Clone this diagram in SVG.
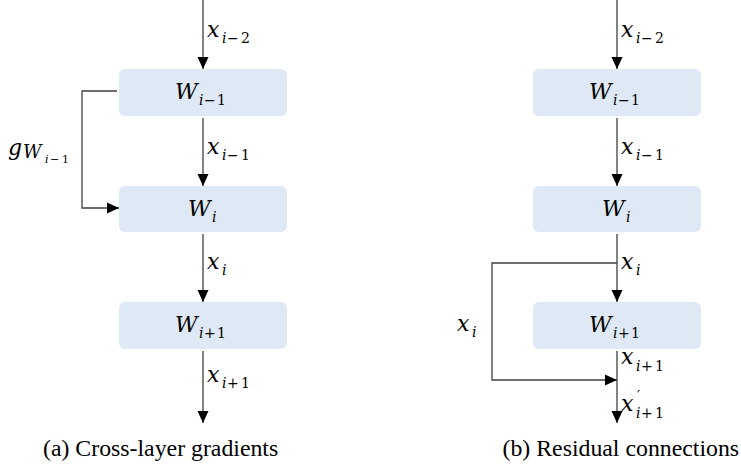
<svg xmlns="http://www.w3.org/2000/svg" width="741" height="467" viewBox="0 0 741 467">
<style>
.box{fill:#DEE9F5;}
.ln{fill:none;stroke:#404040;stroke-width:1.3;}
.m{font-family:"DejaVu Serif",serif;font-size:22px;fill:#000;}
.it{font-style:italic;}
.s{font-size:14px;}
.ss{font-size:11px;}
.cap{font-family:"Liberation Serif","Times New Roman",serif;font-size:23.8px;fill:#000;}
</style>
<defs>
<marker id="ah" viewBox="0 0 12 12" refX="12" refY="6" markerWidth="12" markerHeight="12" markerUnits="userSpaceOnUse" orient="auto">
<path d="M0,0.5 L12,6 L0,11.5 Z" fill="#000"/>
</marker>
</defs>
<rect width="741" height="467" fill="#fff"/>

<g id="connectors">
<path class="ln" d="M203,0 V69" marker-end="url(#ah)"/>
<path class="ln" d="M203,118 V186" marker-end="url(#ah)"/>
<path class="ln" d="M203,234 V302" marker-end="url(#ah)"/>
<path class="ln" d="M203,351 V423" marker-end="url(#ah)"/>
<path class="ln" d="M117,91 H82 V208 H119" marker-end="url(#ah)"/>
<path class="ln" d="M617,0 V69" marker-end="url(#ah)"/>
<path class="ln" d="M617,118 V186" marker-end="url(#ah)"/>
<path class="ln" d="M617,234 V302" marker-end="url(#ah)"/>
<path class="ln" d="M617,351 V423" marker-end="url(#ah)"/>
<path class="ln" d="M617,263 H492 V380 H617" marker-end="url(#ah)"/>
</g>

<g id="a-w1"><rect class="box" x="119" y="69" width="168" height="47" rx="6"/>
<text class="m" y="99"><tspan class="it" x="175">W</tspan><tspan class="s it" x="199" y="105">i</tspan><tspan class="s" x="204" y="105">−</tspan><tspan class="s" x="217" y="105">1</tspan></text></g>
<g id="a-w2"><rect class="box" x="119" y="186" width="168" height="46" rx="6"/>
<text class="m" y="216"><tspan class="it" x="188">W</tspan><tspan class="s it" x="212" y="222">i</tspan></text></g>
<g id="a-w3"><rect class="box" x="119" y="302" width="168" height="47" rx="6"/>
<text class="m" y="332"><tspan class="it" x="175">W</tspan><tspan class="s it" x="199" y="338">i</tspan><tspan class="s" x="204" y="338">+</tspan><tspan class="s" x="217" y="338">1</tspan></text></g>

<g id="b-w1"><rect class="box" x="533" y="69" width="168" height="47" rx="6"/>
<text class="m" y="99"><tspan class="it" x="589">W</tspan><tspan class="s it" x="613" y="105">i</tspan><tspan class="s" x="618" y="105">−</tspan><tspan class="s" x="631" y="105">1</tspan></text></g>
<g id="b-w2"><rect class="box" x="533" y="186" width="168" height="46" rx="6"/>
<text class="m" y="216"><tspan class="it" x="602">W</tspan><tspan class="s it" x="626" y="222">i</tspan></text></g>
<g id="b-w3"><rect class="box" x="533" y="302" width="168" height="47" rx="6"/>
<text class="m" y="332"><tspan class="it" x="589">W</tspan><tspan class="s it" x="613" y="338">i</tspan><tspan class="s" x="618" y="338">+</tspan><tspan class="s" x="631" y="338">1</tspan></text></g>

<g id="labels">
<text class="m" y="37"><tspan class="it" x="207">x</tspan><tspan class="s it" x="222" y="43">i</tspan><tspan class="s" x="227" y="43">−</tspan><tspan class="s" x="241" y="43">2</tspan></text>
<text class="m" y="154"><tspan class="it" x="207">x</tspan><tspan class="s it" x="222" y="160">i</tspan><tspan class="s" x="227" y="160">−</tspan><tspan class="s" x="241" y="160">1</tspan></text>
<text class="m" y="269"><tspan class="it" x="207">x</tspan><tspan class="s it" x="222" y="275">i</tspan></text>
<text class="m" y="382"><tspan class="it" x="207">x</tspan><tspan class="s it" x="222" y="388">i</tspan><tspan class="s" x="227" y="388">+</tspan><tspan class="s" x="241" y="388">1</tspan></text>
<text class="m" y="155"><tspan class="it" x="8">g</tspan><tspan class="it" x="23" y="158" font-size="18">W</tspan><tspan class="ss it" x="45" y="163">i</tspan><tspan class="ss" x="50" y="163">−</tspan><tspan class="ss" x="62" y="163">1</tspan></text>
<text class="m" y="37"><tspan class="it" x="621">x</tspan><tspan class="s it" x="636" y="43">i</tspan><tspan class="s" x="641" y="43">−</tspan><tspan class="s" x="655" y="43">2</tspan></text>
<text class="m" y="154"><tspan class="it" x="621">x</tspan><tspan class="s it" x="636" y="160">i</tspan><tspan class="s" x="641" y="160">−</tspan><tspan class="s" x="655" y="160">1</tspan></text>
<text class="m" y="269"><tspan class="it" x="621">x</tspan><tspan class="s it" x="636" y="275">i</tspan></text>
<text class="m" y="331"><tspan class="it" x="457">x</tspan><tspan class="s it" x="472" y="337">i</tspan></text>
<text class="m" y="364"><tspan class="it" x="621">x</tspan><tspan class="s it" x="636" y="371">i</tspan><tspan class="s" x="641" y="371">+</tspan><tspan class="s" x="655" y="371">1</tspan></text>
<text class="m" y="411"><tspan class="it" x="621">x</tspan><tspan class="s" x="637" y="401">′</tspan><tspan class="s it" x="636" y="418">i</tspan><tspan class="s" x="641" y="418">+</tspan><tspan class="s" x="655" y="418">1</tspan></text>
</g>

<text class="cap" x="43" y="456">(a) Cross-layer gradients</text>
<text class="cap" x="502.5" y="456">(b) Residual connections</text>
</svg>
